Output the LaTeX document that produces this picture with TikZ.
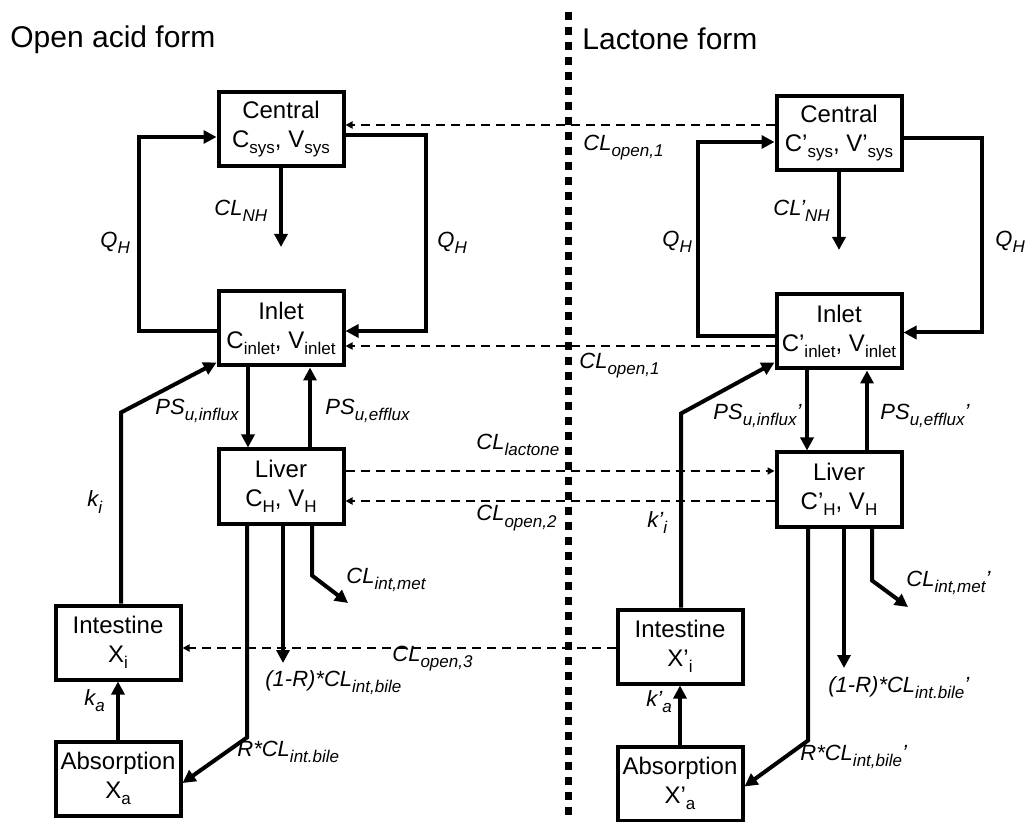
\documentclass[tikz,border=0pt]{standalone}
\usepackage{fontspec}
\setmainfont{Liberation Sans}
\usetikzlibrary{arrows.meta,positioning}
\newcommand{\lowsub}[1]{\raisebox{-3pt}{\fontsize{8.5}{10}\selectfont #1}}

\begin{document}
\begin{tikzpicture}[
  x=0.5pt, y=-0.5pt,
  every node/.style={font=\fontsize{11}{13}\selectfont},
  comp/.style={draw, line width=2pt, align=center, minimum width=62.5pt, minimum height=37pt, inner sep=1pt, font=\fontsize{12}{14.5}\selectfont},
  flow/.style={-{Triangle[length=6.5pt,width=6.5pt]}, line width=2pt},
  xfer/.style={-{Triangle[length=3.5pt,width=3.5pt]}, line width=1pt, dash pattern=on 4.5pt off 3pt},
  lbl/.style={anchor=base west, inner sep=0pt, font=\fontsize{11}{13}\selectfont\itshape},
  heading/.style={anchor=base west, inner sep=0pt, font=\fontsize{15}{18}\selectfont},
  divider/.style={line width=3.5pt, dash pattern=on 4pt off 3.5pt}
]
\useasboundingbox (0,0) rectangle (1026,822);

\node[heading] (acidtitle) at (10,48) {Open acid form};
\node[heading] (lactitle) at (582,50) {Lactone form};
\draw[divider] (568,12) -- (568,822);

\node[comp] (central) at (281,129.5) {Central\\C\lowsub{sys}, V\lowsub{sys}};
\node[comp, below=60.5pt of central] (inlet) {Inlet\\C\lowsub{inlet}, V\lowsub{inlet}};
\node[comp, below=40pt of inlet] (liver) {Liver\\C\lowsub{H}, V\lowsub{H}};
\node[comp, below left=39pt and 17pt of liver] (intestine) {Intestine\\X\lowsub{i}};
\node[comp, below=29pt of intestine] (absorption) {Absorption\\X\lowsub{a}};

\node[comp] (lcentral) at (839,133.5) {Central\\C'\lowsub{sys}, V'\lowsub{sys}};
\node[comp, below=60pt of lcentral] (linlet) {Inlet\\C'\lowsub{inlet}, V\lowsub{inlet}};
\node[comp, below=40pt of linlet] (lliver) {Liver\\C'\lowsub{H}, V\lowsub{H}};
\node[comp, below left=39.5pt and 15pt of lliver] (lintestine) {Intestine\\X'\lowsub{i}};
\node[comp, below=29.5pt of lintestine] (labsorption) {Absorption\\X'\lowsub{a}};

\coordinate (nhend) at (281,247);
\coordinate (bileout) at (283,663);
\coordinate (metout) at (348,603);
\coordinate (lnhend) at (839,250);
\coordinate (lbileout) at (844,668);
\coordinate (lmetout) at (908,607);

\draw[flow] ([yshift=-1.25pt]inlet.west) -- ++(-78,0) |- ([yshift=-3.75pt]central.west);
\draw[flow] ([yshift=-2.75pt]central.east) -- ++(80,0) |- ([yshift=-1.25pt]inlet.east);
\draw[flow] (central.south) -- (nhend);
\coordinate (infl) at ([xshift=-16.5pt]inlet.south);
\coordinate (effl) at ([xshift=14.5pt]liver.north);
\draw[flow] (infl) -- (infl |- liver.north);
\draw[flow] (effl) -- (effl |- inlet.south);
\draw[flow] ([xshift=-17pt]liver.south) -- ++(0,212) -- ([yshift=-2.25pt]absorption.east);
\draw[flow] ([xshift=1pt]liver.south) -- (bileout);
\draw[flow] ([xshift=15.5pt]liver.south) -- ++(0,50) -- (metout);
\draw[flow] ([xshift=1.5pt]intestine.north) -- ++(0,-191) -- ([yshift=2.5pt]inlet.south west);
\draw[flow] (absorption.north) -- (absorption.north |- intestine.south);

\draw[flow] ([yshift=-2.5pt]linlet.west) -- ++(-76.5,0) |- ([yshift=-4.25pt]lcentral.west);
\draw[flow] ([yshift=-2.25pt]lcentral.east) -- ++(78.5,0) |- ([yshift=-0.5pt]linlet.east);
\draw[flow] (lcentral.south) -- (lnhend);
\coordinate (linfl) at ([xshift=-16pt]linlet.south);
\coordinate (leffl) at ([xshift=14pt]lliver.north);
\draw[flow] (linfl) -- (linfl |- lliver.north);
\draw[flow] (leffl) -- (leffl |- linlet.south);
\draw[flow] ([xshift=-15.5pt]lliver.south) -- ++(0,212) -- ([yshift=-1.5pt]labsorption.east);
\draw[flow] ([xshift=2.5pt]lliver.south) -- (lbileout);
\draw[flow] ([xshift=16.5pt]lliver.south) -- ++(0,52) -- (lmetout);
\draw[flow] ([xshift=0.5pt]lintestine.north) -- ++(0,-194) -- ([yshift=4pt]linlet.south west);
\draw[flow] (labsorption.north) -- (labsorption.north |- lintestine.south);

\coordinate (open1) at ([yshift=2.25pt]central.east);
\coordinate (open1b) at ([yshift=-8.75pt]inlet.east);
\coordinate (lacto) at ([yshift=7.75pt]liver.east);
\coordinate (open2) at ([yshift=-7.25pt]liver.east);
\coordinate (open3) at ([yshift=-2.75pt]intestine.east);
\draw[xfer] (lcentral.west |- open1) -- (open1);
\draw[xfer] (linlet.west |- open1b) -- (open1b);
\draw[xfer] (lacto) -- (lacto -| lliver.west);
\draw[xfer] (lliver.west |- open2) -- (open2);
\draw[xfer] (lintestine.west |- open3) -- (open3);

\node[lbl] (qhleft) at (100,248) {Q\lowsub{H}};
\node[lbl] (qhright) at (437,248) {Q\lowsub{H}};
\node[lbl] (nhlbl) at (214,216) {CL\lowsub{NH}};
\node[lbl] (influxlbl) at (155,415) {PS\lowsub{u,influx}};
\node[lbl] (effluxlbl) at (325,415) {PS\lowsub{u,efflux}};
\node[lbl] (lactolbl) at (476,450) {CL\lowsub{lactone}};
\node[lbl] (open2lbl) at (476,521) {CL\lowsub{open,2}};
\node[lbl] (kilbl) at (87,507) {k\lowsub{i}};
\node[lbl] (metlbl) at (346,583) {CL\lowsub{int,met}};
\node[lbl] (bilelbl) at (265,686) {(1-R)*CL\lowsub{int,bile}};
\node[lbl] (open3lbl) at (392,661) {CL\lowsub{open,3}};
\node[lbl] (kalbl) at (84,705) {k\lowsub{a}};
\node[lbl] (rbilelbl) at (237,756) {R*CL\lowsub{int.bile}};

\node[lbl] (open1lbl) at (583,151) {CL\lowsub{open,1}};
\node[lbl] (lnhlbl) at (773,216) {CL'\lowsub{NH}};
\node[lbl] (lqhleft) at (662,247) {Q\lowsub{H}};
\node[lbl] (lqhright) at (995,247) {Q\lowsub{H}};
\node[lbl] (open1blbl) at (579,369) {CL\lowsub{open,1}};
\node[lbl] (linfluxlbl) at (713,420) {PS\lowsub{u,influx}'};
\node[lbl] (leffluxlbl) at (880,420) {PS\lowsub{u,efflux}'};
\node[lbl] (lkilbl) at (647,527) {k'\lowsub{i}};
\node[lbl] (lmetlbl) at (906,586) {CL\lowsub{int,met}'};
\node[lbl] (lbilelbl) at (828,692) {(1-R)*CL\lowsub{int.bile}'};
\node[lbl] (lkalbl) at (646,706) {k'\lowsub{a}};
\node[lbl] (lrbilelbl) at (800,760) {R*CL\lowsub{int,bile}'};
\end{tikzpicture}
\end{document}
